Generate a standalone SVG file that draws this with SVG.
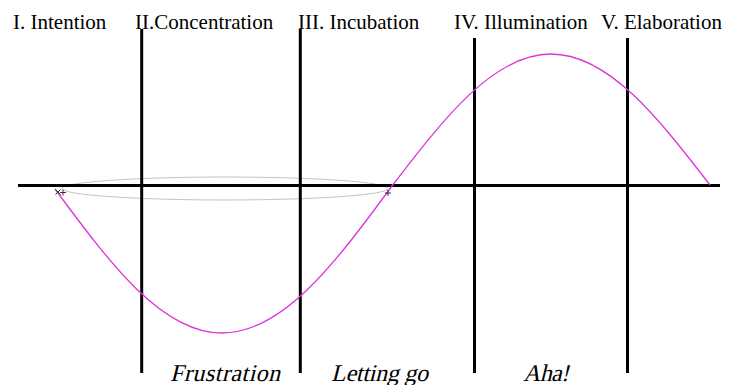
<svg xmlns="http://www.w3.org/2000/svg" width="729" height="385" viewBox="0 0 729 385">
<style>
.lbl{font-family:"Liberation Serif","Times New Roman",serif;font-size:21px;fill:#000}
.it{font-family:"Liberation Serif","Times New Roman",serif;font-size:24px;fill:#000}
.ax{stroke:#000;stroke-width:3;fill:none}
.mk{stroke:#333;stroke-width:1;fill:none}
</style>
<rect width="729" height="385" fill="#fff"/>
<g id="connectors">
<ellipse id="loop" cx="225" cy="188.5" rx="163" ry="11.5" fill="none" stroke="#c4c4c4" stroke-width="1"/>
<line class="ax" x1="18" y1="185.5" x2="720" y2="185.5"/>
<line class="ax" x1="141.7" y1="29" x2="141.7" y2="373"/>
<line class="ax" x1="300.3" y1="29" x2="300.3" y2="373"/>
<line class="ax" x1="474.5" y1="38" x2="474.5" y2="373"/>
<line class="ax" x1="627.5" y1="38" x2="627.5" y2="373"/>
<path id="wave" d="M55,189 C109.5,262.8 161.6,333 222,333 C283.5,333 336.6,261.3 392,186 C443.9,118.4 493.5,54 551,54 C608.5,54 658.2,117.9 710,185" fill="none" stroke="#dd33dd" stroke-width="1.3"/>
<path class="mk" d="M55.5,189.5 l5,5 M60.5,189.5 l-5,5 M60,192.5 h6 M63,189.5 v6 M385,193 h6 M388,190 v6"/>
</g>
<g id="stage1"><text class="lbl" x="13" y="29">I. Intention</text></g>
<g id="stage2"><text class="lbl" x="135" y="29">II.Concentration</text></g>
<g id="stage3"><text class="lbl" x="298" y="29">III. Incubation</text></g>
<g id="stage4"><text class="lbl" x="454" y="29">IV. Illumination</text></g>
<g id="stage5"><text class="lbl" x="601" y="29">V. Elaboration</text></g>
<g id="feel1"><text class="it" transform="translate(170,381) skewX(-14)" x="0" y="0" textLength="110">Frustration</text></g>
<g id="feel2"><text class="it" transform="translate(331,381) skewX(-14)" x="0" y="0" textLength="97">Letting go</text></g>
<g id="feel3"><text class="it" transform="translate(523,381) skewX(-14)" x="0" y="0" textLength="46">Aha!</text></g>
</svg>
